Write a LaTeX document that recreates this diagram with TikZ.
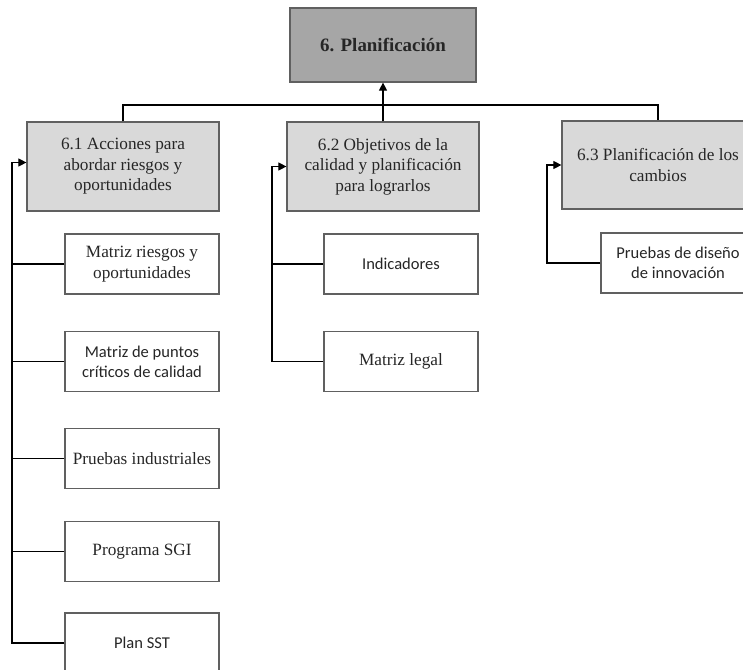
\documentclass[tikz,border=0pt]{standalone}
\usepackage{fontspec}
\setmainfont{Liberation Serif}
\newfontfamily\calib{Carlito}
\usetikzlibrary{arrows.meta}
\definecolor{topfill}{HTML}{A6A6A6}
\definecolor{midfill}{HTML}{D9D9D9}
\definecolor{boxline}{HTML}{606060}
\definecolor{txt}{HTML}{262626}
\tikzset{
  topbox/.style={draw=boxline, line width=1.2bp, fill=topfill, minimum width=186bp, minimum height=74bp, inner sep=0pt, align=center, text=txt, font=\fontsize{19}{22}\selectfont\bfseries},
  midbox/.style={draw=boxline, line width=1.2bp, fill=midfill, minimum width=192bp, minimum height=89bp, inner sep=0pt, align=center, text=txt, font=\fontsize{17.3}{20.5}\selectfont},
  leafbox/.style={draw=boxline, line width=1.2bp, fill=white, minimum width=154bp, minimum height=60bp, inner sep=0pt, align=center, text=txt, font=\fontsize{17.3}{20.5}\selectfont},
  sansleaf/.style={leafbox, font=\fontsize{16.6}{20}\selectfont\calib},
  conn/.style={draw=black, line width=1.1bp},
  arr/.style={conn, -{Triangle[length=8bp,width=8bp]}}
}
\begin{document}
\begin{tikzpicture}[x=1bp,y=-1bp]
\useasboundingbox (0,0) rectangle (743,670);
\clip (0,0) rectangle (743,670);
% nodes
\node[topbox] (top) at (383,45) {6. Planificación};
\node[midbox] (a61) at (123,166.5) {6.1 Acciones para\\abordar riesgos y\\oportunidades};
\node[midbox] (a62) at (383,166.5) {6.2 Objetivos de la\\calidad y planificación\\para lograrlos};
\node[midbox, minimum height=88bp] (a63) at (658,165) {6.3 Planificación de los\\cambios};
% leaves of 6.1
\node[leafbox] (m1) at (142,264) {Matriz riesgos y\\oportunidades};
\node[sansleaf] (m2) at (142,361.5) {Matriz de puntos\\críticos de calidad};
\node[leafbox] (m3) at (142,458.5) {Pruebas industriales};
\node[leafbox] (m4) at (142,551.5) {Programa SGI};
\node[sansleaf] (m5) at (142,643) {Plan SST};
% leaves of 6.2
\node[sansleaf] (n1) at (401,264) {Indicadores};
\node[leafbox] (n2) at (401,361.5) {Matriz legal};
% leaf of 6.3
\node[sansleaf] (p1) at (678,263) {Pruebas de diseño\\de innovación};
% coordinates
\coordinate (bar) at (383,105);
\coordinate (sp1) at (12,0);
\coordinate (sp2) at (272,0);
\coordinate (sp3) at (547,0);
% top connectors
\draw[conn] (a61.north) |- (bar) -| (a63.north);
\draw[conn] (a62.north) -- (bar);
\draw[arr] (bar) -- (top.south);
% 6.1 spine
\draw[arr] (m5.west) -- (m5.west -| sp1) -- ([yshift=4bp]a61.west -| sp1) -- ([yshift=4bp]a61.west);
\draw[conn] (m1.west) -- (m1.west -| sp1);
\draw[conn] (m2.west) -- (m2.west -| sp1);
\draw[conn] (m3.west) -- (m3.west -| sp1);
\draw[conn] (m4.west) -- (m4.west -| sp1);
% 6.2 spine
\draw[arr] (n2.west) -- (n2.west -| sp2) -- (a62.west -| sp2) -- (a62.west);
\draw[conn] (n1.west) -- (n1.west -| sp2);
% 6.3 spine
\draw[arr] (p1.west) -- (p1.west -| sp3) -- (a63.west -| sp3) -- (a63.west);
\end{tikzpicture}
\end{document}
